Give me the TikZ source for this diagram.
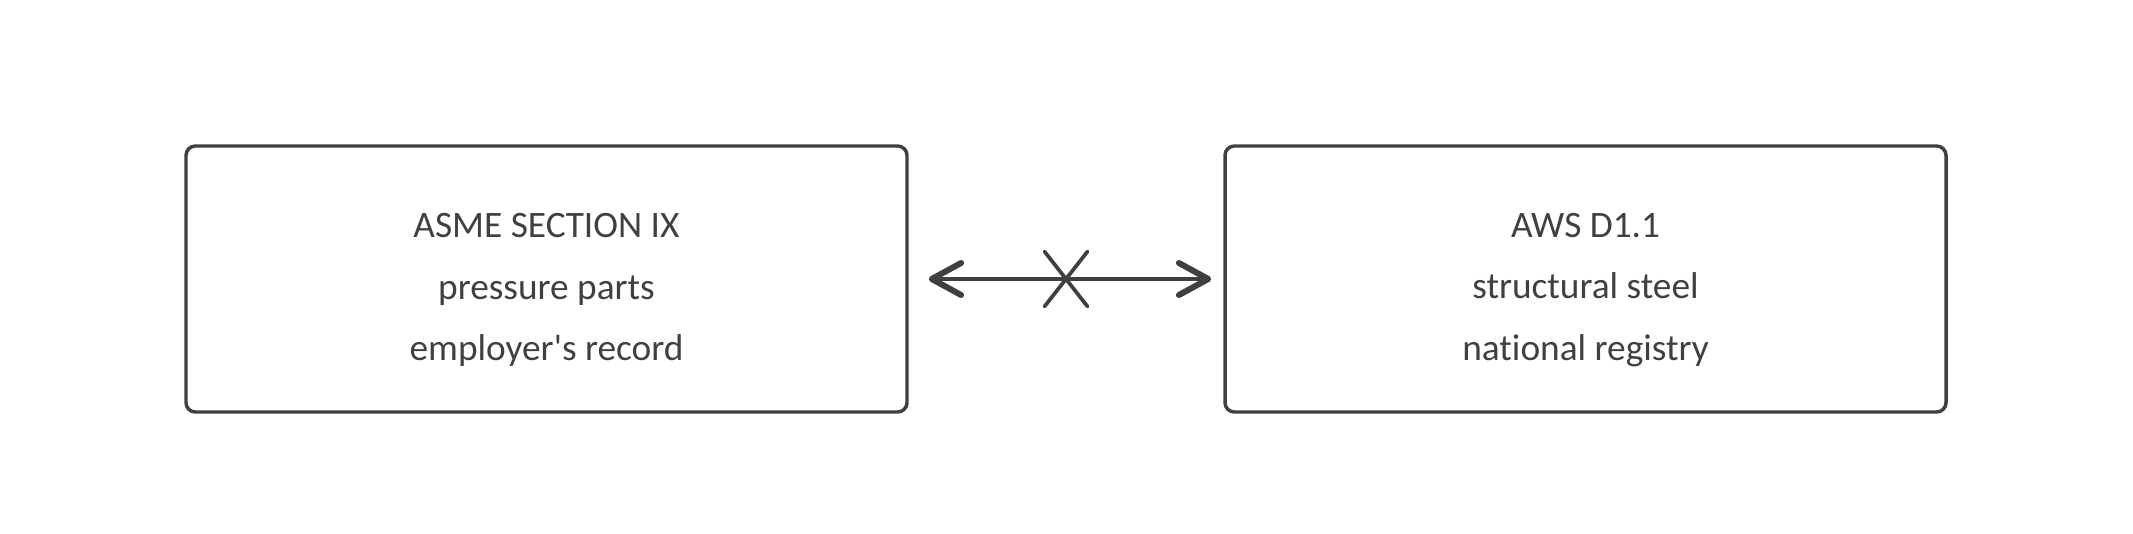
\documentclass[tikz,border=0pt]{standalone}
\usepackage{fontspec}
\setmainfont{Carlito}[Ligatures={NoCommon}]
\usetikzlibrary{arrows.meta,calc}
\definecolor{ink}{RGB}{64,64,66}
\begin{document}
\begin{tikzpicture}[x=0.75pt,y=-0.75pt,
  boxst/.style={draw=ink, line width=2.6pt, rounded corners=7pt, minimum width=540.75pt, minimum height=199.5pt},
  labelst/.style={text=ink, align=center, font=\fontsize{28pt}{46pt}\selectfont},
  link/.style={draw=ink, line width=3pt, line cap=round, {Straight Barb[length=22pt,width=24pt,line width=4.5pt,round]}-{Straight Barb[length=22pt,width=24pt,line width=4.5pt,round]}, shorten <=15pt, shorten >=9pt},
  crossst/.style={draw=ink, line width=2.8pt, line cap=round}]
\useasboundingbox (0,0) rectangle (2133,533);
\node[boxst] (L) at (546.5,279) {};
\node[boxst] (R) at (1585.5,279) {};
\node[labelst] (Lt) at (546.5,290) {ASME SECTION IX\\pressure parts\\employer\textquotesingle s record};
\node[labelst] (Rt) at (1585.5,290) {AWS D1.1\\structural steel\\national registry};
\draw[link] (L.east) -- (R.west) coordinate[midway] (m);
\draw[crossst] ($(m)+(-21.5,-27.5)$) -- ($(m)+(21.5,27.5)$);
\draw[crossst] ($(m)+(-21.5,27.5)$) -- ($(m)+(21.5,-27.5)$);
\end{tikzpicture}
\end{document}
